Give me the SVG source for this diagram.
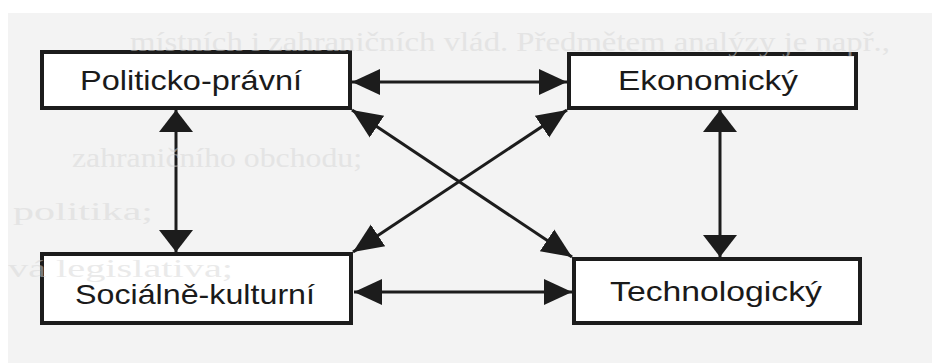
<svg xmlns="http://www.w3.org/2000/svg" width="938" height="363" viewBox="0 0 938 363">
  <defs>
    <style>
      .box { fill: #ffffff; stroke: #1c1c1c; stroke-width: 4; }
      .label { font-family: "Liberation Sans", Arial, sans-serif; font-size: 28px; fill: #1a1a1a; }
      .ghost { font-family: "Liberation Serif", "Times New Roman", serif; font-size: 28px; fill: #d6d6d6; opacity: 0.5; }
      .link { fill: none; stroke: #1c1c1c; stroke-width: 3; }
      .h { marker-start: url(#headH); marker-end: url(#headH); }
      .v { marker-start: url(#headV); marker-end: url(#headV); }
      .d { marker-start: url(#headD); marker-end: url(#headD); }
    </style>
    <!-- arrowheads: tip sits on the line end, drawn for both ends -->
    <marker id="headH" markerUnits="userSpaceOnUse" markerWidth="28" markerHeight="28" refX="28" refY="14" orient="auto-start-reverse">
      <path d="M0,1 L28,14 L0,27 z" fill="#1c1c1c"/>
    </marker>
    <marker id="headV" markerUnits="userSpaceOnUse" markerWidth="22" markerHeight="36" refX="22" refY="18" orient="auto-start-reverse">
      <path d="M0,1 L22,18 L0,35 z" fill="#1c1c1c"/>
    </marker>
    <marker id="headD" markerUnits="userSpaceOnUse" markerWidth="30" markerHeight="30" refX="30" refY="15" orient="auto-start-reverse">
      <path d="M0,2 L30,15 L0,28 z" fill="#1c1c1c"/>
    </marker>
  </defs>

  <!-- page background -->
  <rect x="0" y="0" width="938" height="363" fill="#ffffff"/>
  <rect x="8" y="13" width="924" height="350" fill="#f3f3f3"/>

  <!-- connectors -->
  <g id="connectors">
    <line class="link h" x1="352" y1="82" x2="567" y2="82"/>
    <line class="link h" x1="354" y1="292" x2="572" y2="292"/>
    <line class="link v" x1="176" y1="110" x2="176" y2="252"/>
    <line class="link v" x1="720" y1="110" x2="720" y2="257"/>
    <line class="link d" x1="352" y1="110" x2="572" y2="257"/>
    <line class="link d" x1="567" y1="110" x2="353" y2="252"/>
  </g>

  <g id="politicko-pravni">
    <rect class="box" x="42" y="52" width="308" height="56"/>
    <text class="label" x="80" y="90" textLength="222" lengthAdjust="spacingAndGlyphs">Politicko-právní</text>
  </g>

  <g id="ekonomicky">
    <rect class="box" x="569" y="54" width="287" height="54"/>
    <text class="label" x="618" y="90" textLength="180" lengthAdjust="spacingAndGlyphs">Ekonomický</text>
  </g>

  <g id="socialne-kulturni">
    <rect class="box" x="42" y="254" width="309" height="69"/>
    <text class="label" x="75" y="304" textLength="240" lengthAdjust="spacingAndGlyphs">Sociálně-kulturní</text>
  </g>

  <g id="technologicky">
    <rect class="box" x="574" y="259" width="286" height="64"/>
    <text class="label" x="610" y="301" textLength="212" lengthAdjust="spacingAndGlyphs">Technologický</text>
  </g>

  <!-- faint print showing through from the reverse side of the sheet -->
  <g id="show-through">
    <text class="ghost" x="130" y="51" textLength="760" lengthAdjust="spacingAndGlyphs">místních i zahraničních vlád. Předmětem analýzy je např.,</text>
    <text class="ghost" x="72" y="167" textLength="290" lengthAdjust="spacingAndGlyphs">zahraničního obchodu;</text>
    <text class="ghost" x="13" y="220" style="font-size:25px" textLength="140" lengthAdjust="spacingAndGlyphs">politika;</text>
    <text class="ghost" x="8" y="277" style="font-size:25px" textLength="225" lengthAdjust="spacingAndGlyphs">vá legislativa;</text>
  </g>
</svg>
